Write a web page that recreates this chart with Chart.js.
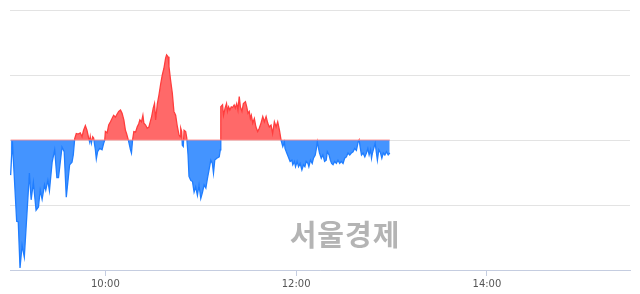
<!DOCTYPE html>
<html lang="ko">
<head>
<meta charset="utf-8">
<script src="https://cdn.jsdelivr.net/npm/chart.js@4.4.1/dist/chart.umd.min.js"></script>
<style>
  html, body { margin: 0; padding: 0; background: #fff; }
  #wrap { position: relative; width: 640px; height: 294px; }
  #mark {
    position: absolute; left: 284px; top: 212px; width: 122px; text-align: center;
    font-family: "Noto Sans CJK KR", sans-serif; font-weight: bold; font-size: 29px;
    color: #b4b4b4; letter-spacing: 1px; pointer-events: none;
  }
</style>
</head>
<body>
<div id="wrap">
  <canvas id="chart" width="640" height="294"></canvas>
  <div id="mark">서울경제</div>
</div>
<script>
// minutes after 09:00
const times = [
  0.4, 1.5, 4.2, 5.2, 6.3, 7.6, 9.0, 12.2, 13.3, 14.7, 16.4, 17.9, 19.0, 20.2, 21.7, 22.5, 23.8, 24.8,
  26.5, 28.1, 29.5, 30.5, 32.7, 34.1, 35.4, 37.5, 39.0, 39.8, 40.7, 41.7, 42.9, 44.2, 45.3, 46.3, 47.4,
  48.4, 49.5, 50.1, 50.5, 51.2, 52.0, 52.6, 53.7, 54.3, 55.1, 56.4, 57.9, 58.9, 59.6, 60.0, 61.1, 62.1,
  63.2, 64.2, 65.2, 66.3, 67.4, 68.4, 69.5, 70.5, 71.6, 72.6, 73.3, 74.1, 74.7, 75.8, 76.4, 77.1, 77.9,
  79.0, 80.0, 81.0, 81.7, 82.7, 83.6, 84.2, 85.3, 86.3, 87.4, 88.0, 89.1, 90.1, 90.9, 91.6, 92.7, 93.7,
  94.7, 95.8, 96.8, 97.9, 98.5, 99.4, 100.0, 101.0, 102.1, 103.1, 104.2, 105.3, 106.3, 107.0, 107.4,
  108.0, 108.4, 109.0, 109.5, 110.5, 111.2, 112.0, 112.6, 113.7, 114.8, 115.8, 116.8, 117.9, 118.9,
  120.0, 121.1, 122.1, 123.2, 124.2, 125.2, 126.3, 127.3, 128.0, 128.8, 130.1, 131.6, 132.3, 132.6,
  133.7, 134.3, 135.3, 136.2, 136.8, 137.5, 138.3, 139.2, 140.0, 141.0, 141.7, 142.6, 143.4, 144.2,
  144.9, 145.9, 146.8, 148.1, 148.9, 149.7, 150.5, 151.2, 151.8, 152.7, 153.7, 154.7, 155.8, 156.8,
  157.9, 159.0, 160.0, 161.1, 162.1, 163.1, 164.2, 165.2, 166.3, 167.4, 168.4, 169.5, 170.5, 171.6,
  172.6, 173.0, 174.1, 175.1, 176.2, 177.3, 177.9, 178.9, 179.6, 180.6, 181.5, 182.5, 183.6, 184.6,
  185.5, 186.3, 187.4, 188.0, 189.0, 190.1, 190.9, 192.0, 192.6, 193.3, 194.1, 194.7, 195.8, 196.8,
  197.9, 198.9, 199.6, 200.7, 201.5, 202.3, 203.2, 204.2, 205.3, 206.3, 207.4, 208.4, 209.5, 210.5,
  211.6, 212.6, 213.7, 214.7, 215.8, 216.8, 217.9, 219.0, 219.6, 220.4, 221.1, 222.1, 223.2, 224.2,
  225.1, 225.9, 226.8, 227.4, 228.0, 228.8, 229.7, 230.5, 231.1, 232.0, 233.1, 233.9, 234.8, 235.8,
  236.8, 237.9, 238.9
];
// change vs. previous close (grid step = 1)
const values = [
  -0.54, -0.02, -1.25, -1.26, -1.97, -1.62, -1.80, -0.51, -0.92, -0.65, -1.08, -1.03, -0.77, -0.91, -0.69, -0.77, -0.62, -0.78,
  -0.34, -0.15, -0.58, -0.58, -0.11, -0.18, -0.88, -0.38, -0.34, -0.23, 0.02, 0.10, 0.09, 0.11, 0.05, 0.15, 0.22,
  0.15, 0.03, -0.03, 0.05, -0.05, 0.05, 0.03, -0.15, -0.29, -0.18, -0.13, -0.15, -0.05, 0.00, 0.13, 0.11, 0.23,
  0.28, 0.33, 0.38, 0.35, 0.40, 0.44, 0.46, 0.41, 0.31, 0.15, 0.10, 0.03, -0.03, -0.15, -0.20, 0.00, 0.13,
  0.12, 0.20, 0.25, 0.31, 0.28, 0.38, 0.26, 0.23, 0.18, 0.20, 0.26, 0.36, 0.49, 0.56, 0.31, 0.56, 0.69,
  0.85, 1.00, 1.10, 1.26, 1.31, 1.28, 1.13, 0.92, 0.72, 0.44, 0.38, 0.20, 0.08, 0.05, 0.18,
  0.13, -0.08, -0.10, 0.15, 0.13, 0.03, -0.23, -0.56, -0.62, -0.64, -0.80, -0.72, -0.85, -0.69,
  -0.90, -0.80, -0.69, -0.74, -0.59, -0.46, -0.31, -0.36, -0.51, -0.31, -0.28, -0.26, -0.15, 0.51,
  0.54, 0.38, 0.49, 0.56, 0.44, 0.51, 0.46, 0.51, 0.50, 0.54, 0.49, 0.56, 0.46, 0.67,
  0.51, 0.44, 0.56, 0.59, 0.51, 0.41, 0.44, 0.33, 0.38, 0.26, 0.33, 0.20, 0.13, 0.18,
  0.26, 0.36, 0.28, 0.36, 0.26, 0.20, 0.23, 0.10, 0.28, 0.20, 0.28, 0.15, 0.00, -0.10,
  -0.03, -0.13, -0.20, -0.26, -0.33, -0.31, -0.38, -0.33, -0.41, -0.33, -0.41, -0.36, -0.46, -0.38,
  -0.41, -0.33, -0.36, -0.41, -0.31, -0.36, -0.28, -0.23, -0.15, -0.03, -0.13, -0.20, -0.28, -0.23,
  -0.33, -0.31, -0.18, -0.23, -0.31, -0.36, -0.38, -0.33, -0.36, -0.31, -0.36, -0.33, -0.36, -0.28,
  -0.26, -0.20, -0.23, -0.20, -0.18, -0.13, -0.16, -0.03, 0.00, -0.13, -0.23, -0.20, -0.26, -0.20,
  -0.13, -0.23, -0.15, -0.28, -0.20, -0.13, -0.05, -0.20, -0.31, -0.15, -0.20, -0.28, -0.20, -0.23,
  -0.18, -0.23, -0.20
];
const tickMinutes = [60, 180, 300];
const tickLabels = ['10:00', '12:00', '14:00'];

const RED_LINE = '#ff3d3d';
const BLUE_LINE = '#1f7dff';
const RED_FILL = 'rgba(255, 92, 92, 0.92)';
const BLUE_FILL = 'rgba(58, 142, 255, 0.95)';

const points = times.map((t, i) => ({ x: t, y: values[i] }));

// hard split of the line colour at the zero level
function splitColor(context) {
  const chart = context.chart;
  const area = chart.chartArea;
  if (!area) return RED_LINE;
  const zeroY = chart.scales.y.getPixelForValue(0);
  const p = Math.min(1, Math.max(0, (zeroY - area.top) / (area.bottom - area.top)));
  const g = chart.ctx.createLinearGradient(0, area.top, 0, area.bottom);
  g.addColorStop(0, RED_LINE);
  g.addColorStop(p, RED_LINE);
  g.addColorStop(p, BLUE_LINE);
  g.addColorStop(1, BLUE_LINE);
  return g;
}

new Chart(document.getElementById('chart'), {
  type: 'line',
  data: {
    datasets: [
      {
        // previous close line
        data: [{ x: times[0], y: 0 }, { x: times[times.length - 1], y: 0 }],
        borderColor: 'rgba(255, 140, 140, 0.6)',
        borderWidth: 1.5,
        pointRadius: 0,
        fill: false
      },
      {
        data: points,
        borderColor: splitColor,
        borderWidth: 1.3,
        pointRadius: 0,
        tension: 0,
        fill: { target: 'origin', above: RED_FILL, below: BLUE_FILL }
      }
    ]
  },
  options: {
    responsive: false,
    animation: false,
    layout: { padding: { left: 10, right: 10, top: 10, bottom: 2 } },
    plugins: { legend: { display: false }, tooltip: { enabled: false } },
    scales: {
      x: {
        type: 'linear',
        min: 0,
        max: 390,
        afterBuildTicks: (axis) => { axis.ticks = tickMinutes.map(v => ({ value: v })); },
        ticks: {
          autoSkip: false,
          maxRotation: 0,
          padding: 2,
          color: '#555',
          font: { family: 'DejaVu Sans', size: 10 },
          callback: (v) => tickLabels[tickMinutes.indexOf(v)]
        },
        grid: { drawOnChartArea: false, drawTicks: true, tickLength: 6, color: '#c5cde0' },
        border: { color: '#c5cde0', width: 1 }
      },
      y: {
        min: -2,
        max: 2,
        ticks: { display: false, stepSize: 1 },
        grid: { color: '#e3e3e3', drawTicks: false },
        border: { display: false }
      }
    }
  }
});
</script>
</body>
</html>
